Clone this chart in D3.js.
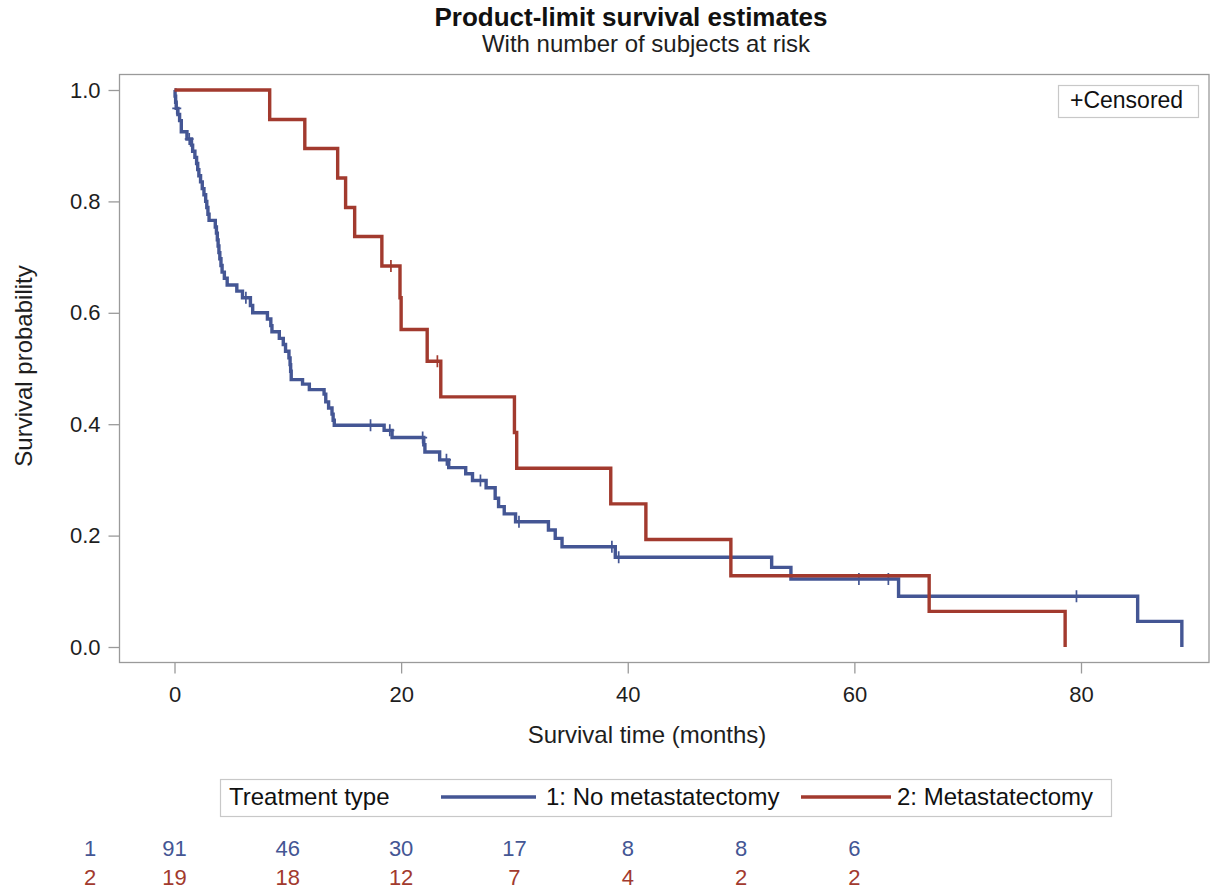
<!DOCTYPE html>
<html>
<head>
<meta charset="utf-8">
<script src="https://cdn.jsdelivr.net/npm/d3@7"></script>
<style>
  body { margin: 0; background: #fff; }
  svg { font-family: "Liberation Sans", Arial, sans-serif; }
</style>
</head>
<body>
<svg width="1211" height="890"></svg>
<script>
// group 1: no metastatectomy (time in months, survival after the event)
const blueTimes = [0.05, 0.1, 0.15, 0.3, 0.45, 0.6, 1.1, 1.5, 1.6, 1.8, 1.95, 2.05, 2.15, 2.3, 2.45, 2.6, 2.75, 2.85, 2.95, 3.05,
  3.6, 3.7, 3.78, 3.85, 3.92, 4.0, 4.1, 4.2, 4.4, 4.65, 5.5, 6.0, 6.7, 6.9, 8.2, 8.5, 8.6, 9.25, 9.6, 9.8, 10.1, 10.2, 10.25, 10.3,
  11.3, 11.9, 13.2, 13.35, 13.6, 13.9, 14.0, 14.1, 18.5, 19.2, 22.0, 22.1, 23.4, 24.2, 25.7, 26.3, 27.5, 28.3, 28.6, 29.1, 30.1,
  33.0, 33.6, 34.2, 38.9, 52.7, 54.4, 63.9, 85.0, 88.9];
const blueSurv = [0.989, 0.978, 0.967, 0.956, 0.945, 0.925, 0.912, 0.901, 0.890, 0.879, 0.868, 0.857, 0.846, 0.835, 0.823, 0.812, 0.800, 0.789, 0.777, 0.766,
  0.754, 0.743, 0.731, 0.720, 0.708, 0.697, 0.685, 0.673, 0.662, 0.650, 0.639, 0.627, 0.613, 0.600, 0.589, 0.577, 0.566, 0.554, 0.543, 0.531, 0.519, 0.507, 0.495, 0.480,
  0.472, 0.462, 0.454, 0.440, 0.429, 0.418, 0.407, 0.398, 0.389, 0.376, 0.363, 0.350, 0.336, 0.322, 0.311, 0.299, 0.286, 0.267, 0.252, 0.239, 0.225,
  0.210, 0.195, 0.180, 0.161, 0.143, 0.122, 0.091, 0.046, 0.0];
const blueCensorTimes = [0.2, 1.3, 6.3, 17.3, 19.0, 21.9, 24.0, 27.0, 30.4, 38.6, 39.2, 60.4, 63.0, 79.6];

// group 2: metastatectomy
const redTimes = [8.4, 11.5, 14.4, 15.1, 15.9, 18.3, 19.9, 20.0, 22.3, 23.5, 30.0, 30.2, 38.5, 41.6, 49.1, 66.6, 78.6];
const redSurv = [0.947, 0.895, 0.842, 0.789, 0.737, 0.684, 0.627, 0.570, 0.513, 0.449, 0.385, 0.321, 0.257, 0.193, 0.128, 0.064, 0.0];
const redCensorTimes = [19.1, 23.2];

const xTicks = [0, 20, 40, 60, 80];
const yTicks = [0, 0.2, 0.4, 0.6, 0.8, 1.0];

const riskTimes = [0, 10, 20, 30, 40, 50, 60];
const riskBlue = [91, 46, 30, 17, 8, 8, 6];
const riskRed = [19, 18, 12, 7, 4, 2, 2];

const blue = "#445694";
const red = "#A23A2E";
const axisGrey = "#9a9a9a";
const ink = "#1e1e1e";

const svg = d3.select("svg");
const plot = { left: 119.5, right: 1209, top: 74.5, bottom: 662.5 };

const x = d3.scaleLinear().domain([0, 80]).range([174.5, 1081]);
const y = d3.scaleLinear().domain([0, 1]).range([647, 90]);

// title
svg.append("text").attr("x", 631).attr("y", 26).attr("text-anchor", "middle")
  .attr("font-size", 26).attr("font-weight", "bold").attr("fill", "#111").text("Product-limit survival estimates");
svg.append("text").attr("x", 646).attr("y", 52).attr("text-anchor", "middle")
  .attr("font-size", 24).attr("fill", ink).text("With number of subjects at risk");

// frame
svg.append("rect")
  .attr("x", plot.left).attr("y", plot.top)
  .attr("width", plot.right - plot.left).attr("height", plot.bottom - plot.top)
  .attr("fill", "none").attr("stroke", axisGrey).attr("stroke-width", 1.3);

// axes
const xAxis = svg.append("g")
  .attr("transform", "translate(0," + plot.bottom + ")")
  .call(d3.axisBottom(x).tickValues(xTicks).tickSize(11).tickSizeOuter(0).tickPadding(13));
const yAxis = svg.append("g")
  .attr("transform", "translate(" + plot.left + ",0)")
  .call(d3.axisLeft(y).tickValues(yTicks).tickFormat(d3.format(".1f")).tickSize(11).tickSizeOuter(0).tickPadding(8));
[xAxis, yAxis].forEach(a => {
  a.select(".domain").remove();
  a.selectAll(".tick line").attr("stroke", axisGrey).attr("stroke-width", 1.3);
  a.selectAll(".tick text").attr("font-size", 22).attr("fill", ink)
    .attr("font-family", "'Liberation Sans', Arial, sans-serif");
});

svg.append("text").attr("x", 647).attr("y", 743).attr("text-anchor", "middle")
  .attr("font-size", 24).attr("fill", ink).text("Survival time (months)");
svg.append("text").attr("transform", "translate(32,366) rotate(-90)").attr("text-anchor", "middle")
  .attr("font-size", 24).attr("fill", ink).text("Survival probability");

// survival curves
function stepPoints(times, surv) {
  const pts = [[0, 1]];
  times.forEach((t, i) => pts.push([t, surv[i]]));
  return pts;
}
function survAt(times, surv, t) {
  let s = 1;
  times.forEach((tt, i) => { if (tt <= t) s = surv[i]; });
  return s;
}
const line = d3.line().x(d => x(d[0])).y(d => y(d[1])).curve(d3.curveStepAfter);

const groups = [
  { times: blueTimes, surv: blueSurv, cens: blueCensorTimes, color: blue },
  { times: redTimes, surv: redSurv, cens: redCensorTimes, color: red }
];

groups.forEach(g => {
  svg.append("path")
    .datum(stepPoints(g.times, g.surv))
    .attr("d", line)
    .attr("fill", "none").attr("stroke", g.color).attr("stroke-width", 3.4)
    .attr("stroke-linejoin", "miter");
  svg.selectAll(null)
    .data(g.cens)
    .enter().append("path")
      .attr("d", t => {
        const cx = x(t), cy = y(survAt(g.times, g.surv, t));
        return "M" + (cx - 4.5) + "," + cy + "H" + (cx + 4.5) + "M" + cx + "," + (cy - 6) + "V" + (cy + 6);
      })
      .attr("stroke", g.color).attr("stroke-width", 1.7);
});

// censored legend box
svg.append("rect").attr("x", 1058.5).attr("y", 85.5).attr("width", 140).attr("height", 32)
  .attr("fill", "#fff").attr("stroke", "#c8c8c8").attr("stroke-width", 1.2);
svg.append("text").attr("x", 1070).attr("y", 108).attr("font-size", 23).attr("fill", "#111").text("+Censored");

// group legend
svg.append("rect").attr("x", 220.5).attr("y", 779.5).attr("width", 891).attr("height", 37)
  .attr("fill", "#fff").attr("stroke", "#c8c8c8").attr("stroke-width", 1.2);
svg.append("text").attr("x", 229).attr("y", 805).attr("font-size", 24).attr("fill", "#111").text("Treatment type");
svg.append("line").attr("x1", 441).attr("x2", 536).attr("y1", 797).attr("y2", 797)
  .attr("stroke", blue).attr("stroke-width", 3.4);
svg.append("text").attr("x", 546).attr("y", 805).attr("font-size", 24).attr("fill", "#111").text("1: No metastatectomy");
svg.append("line").attr("x1", 801).attr("x2", 891).attr("y1", 797).attr("y2", 797)
  .attr("stroke", red).attr("stroke-width", 3.4);
svg.append("text").attr("x", 897).attr("y", 805).attr("font-size", 24).attr("fill", "#111").text("2: Metastatectomy");

// numbers at risk
const rows = [
  { label: "1", values: riskBlue, color: blue, yy: 856 },
  { label: "2", values: riskRed, color: red, yy: 885 }
];
rows.forEach(r => {
  svg.append("text").attr("x", 90).attr("y", r.yy).attr("text-anchor", "middle")
    .attr("font-size", 22).attr("fill", r.color).text(r.label);
  svg.selectAll(null)
    .data(riskTimes)
    .enter().append("text")
      .attr("x", t => x(t))
      .attr("y", r.yy)
      .attr("text-anchor", "middle")
      .attr("font-size", 22)
      .attr("fill", r.color)
      .text((t, i) => r.values[i]);
});
</script>
</body>
</html>
